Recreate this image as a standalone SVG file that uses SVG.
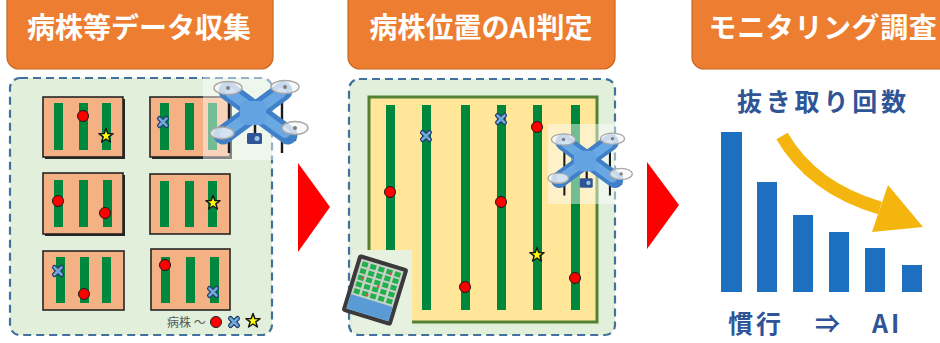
<svg xmlns="http://www.w3.org/2000/svg" xmlns:xlink="http://www.w3.org/1999/xlink" width="940" height="343" viewBox="0 0 940 343">
  <style>
    .title-box { fill: #ed7d31; stroke: #c8651e; stroke-width: 1.2; }
    .title { font-family: "Noto Sans CJK JP", "Noto Sans", sans-serif; font-weight: 700; font-size: 28px; fill: #ffffff; text-anchor: middle; }
    .panel { fill: #e2efda; stroke: #41719c; stroke-width: 2.2; stroke-dasharray: 8 5; }
    .plot { fill: #f4b183; stroke: #262626; stroke-width: 1.6; }
    .row { fill: #00873e; }
    .bar { fill: #1d6fbf; }
    .jp-blue { font-family: "Noto Sans CJK JP", "Noto Sans", sans-serif; font-weight: 700; fill: #2f5597; }
    .legend { font-family: "Noto Sans CJK JP", "Noto Sans", sans-serif; font-size: 12px; fill: #595959; }
    .step { fill: #ff0000; }
  </style>
  <defs>
    <g id="dot">
      <circle r="5.5" fill="#ff0000" stroke="#1a1a1a" stroke-width="1"/>
    </g>
    <g id="cross">
      <path d="M-3.5,-3.5 L3.5,3.5 M3.5,-3.5 L-3.5,3.5" stroke="#1f3864" stroke-width="5" stroke-linecap="round" fill="none"/>
      <path d="M-3.5,-3.5 L3.5,3.5 M3.5,-3.5 L-3.5,3.5" stroke="#6fa8dc" stroke-width="2.6" stroke-linecap="round" fill="none"/>
    </g>
    <g id="star">
      <path d="M0,-7.5 L1.8,-2.4 L7.1,-2.3 L2.8,0.9 L4.4,6 L0,3 L-4.4,6 L-2.8,0.9 L-7.1,-2.3 L-1.8,-2.4 Z" fill="#ffff00" stroke="#1a1a1a" stroke-width="1.5" stroke-linejoin="round"/>
    </g>
    <!-- quadcopter, centred on its body -->
    <g id="drone">
      <path d="M-24,-21 V40 M29,-20 V40 M42,15 V28" stroke="#1a1a1a" stroke-width="2.4"/>
      <path d="M-25,-22 L35,22 M30,-22 L-30,22" stroke="#3f80c8" stroke-width="19" stroke-linecap="round"/>
      <path d="M-23,-20 L32,20 M28,-20 L-28,20" stroke="#6aa8e4" stroke-width="10" stroke-linecap="round"/>
      <rect x="-13" y="-12" width="26" height="24" rx="6" fill="#64a3e2"/>
      <line x1="2" y1="12" x2="2" y2="22" stroke="#1a1a1a" stroke-width="2.5"/>
      <rect x="-6" y="20" width="15" height="11" rx="1.5" fill="#2f5597"/>
      <circle cx="4" cy="25.5" r="2.5" fill="#9dc3e6"/>
      <g fill="#f7f7f7" fill-opacity="0.75" stroke="#a6a6a6" stroke-width="1.4">
        <ellipse cx="-25" cy="-25" rx="14" ry="6.5"/>
        <ellipse cx="32" cy="-26" rx="14" ry="6.5"/>
        <ellipse cx="-31" cy="20" rx="12" ry="6"/>
        <ellipse cx="42" cy="15" rx="13" ry="6.5"/>
      </g>
      <g fill="#7f7f7f">
        <circle cx="-25" cy="-25" r="2"/>
        <circle cx="32" cy="-26" r="2"/>
        <circle cx="42" cy="15" r="2"/>
      </g>
    </g>
  </defs>

  <!-- step 1: collecting disease-plant data -->
  <g id="step-collect">
    <rect class="title-box" x="7" y="-14" width="266" height="83" rx="12"/>
    <text class="title" x="139" y="38">病株等データ収集</text>
    <rect class="panel" x="10" y="78" width="262" height="257" rx="10"/>
    <g id="plot-1">
      <rect x="45" y="99" width="80" height="60" fill="#262626"/>
      <rect class="plot" x="43" y="97" width="80" height="60"/>
      <rect class="row" x="54" y="103" width="9" height="47"/>
      <rect class="row" x="79" y="103" width="9" height="47"/>
      <rect class="row" x="102" y="103" width="9" height="47"/>
      <use xlink:href="#dot" x="83" y="116"/>
      <use xlink:href="#star" x="106" y="136"/>
    </g>
    <g id="plot-2">
      <rect x="152" y="99" width="80" height="60" fill="#262626"/>
      <rect class="plot" x="150" y="97" width="80" height="60"/>
      <rect class="row" x="160" y="103" width="9" height="47"/>
      <rect class="row" x="185" y="103" width="9" height="47"/>
      <rect class="row" x="208" y="103" width="9" height="47"/>
      <use xlink:href="#cross" x="163" y="122"/>
    </g>
    <g id="plot-3">
      <rect x="45" y="175" width="80" height="61" fill="#262626"/>
      <rect class="plot" x="43" y="173" width="80" height="61"/>
      <rect class="row" x="54" y="180" width="9" height="47"/>
      <rect class="row" x="79" y="180" width="9" height="47"/>
      <rect class="row" x="103" y="180" width="9" height="47"/>
      <use xlink:href="#dot" x="58" y="201"/>
      <use xlink:href="#dot" x="105" y="213"/>
    </g>
    <g id="plot-4">
      <rect class="plot" x="150" y="174" width="80" height="60"/>
      <rect class="row" x="160" y="181" width="9" height="46"/>
      <rect class="row" x="185" y="181" width="9" height="46"/>
      <rect class="row" x="208" y="181" width="9" height="46"/>
      <use xlink:href="#star" x="213" y="203"/>
    </g>
    <g id="plot-5">
      <rect class="plot" x="43" y="251" width="81" height="59"/>
      <rect class="row" x="56" y="257" width="9" height="46"/>
      <rect class="row" x="80" y="257" width="9" height="46"/>
      <rect class="row" x="102" y="257" width="9" height="46"/>
      <use xlink:href="#cross" x="58" y="271"/>
      <use xlink:href="#dot" x="84" y="294"/>
    </g>
    <g id="plot-6">
      <rect class="plot" x="151" y="249" width="79" height="61"/>
      <rect class="row" x="161" y="257" width="9" height="46"/>
      <rect class="row" x="186" y="257" width="9" height="46"/>
      <rect class="row" x="210" y="257" width="9" height="46"/>
      <use xlink:href="#dot" x="165" y="265"/>
      <use xlink:href="#cross" x="213" y="292"/>
    </g>
    <g id="legend">
      <text class="legend" x="167" y="327">病株 ～</text>
      <use xlink:href="#dot" x="216" y="322"/>
      <use xlink:href="#cross" x="234" y="322"/>
      <use xlink:href="#star" x="253" y="321"/>
    </g>
    <g id="drone-1">
      <rect x="203" y="70" width="107" height="90" fill="#ffffff" fill-opacity="0.45"/>
      <use xlink:href="#drone" transform="translate(253,113)"/>
    </g>
  </g>

  <!-- step 2: AI judgement of diseased-plant positions -->
  <g id="step-judge">
    <rect class="title-box" x="348" y="-14" width="267" height="83" rx="12"/>
    <text class="title" x="481" y="38">病株位置のAI判定</text>
    <rect class="panel" x="349" y="79" width="266" height="256" rx="10"/>
    <g id="field">
      <rect x="369" y="97" width="228" height="225" fill="#ffe699" stroke="#548235" stroke-width="3"/>
      <rect class="row" x="386" y="105" width="9" height="205"/>
      <rect class="row" x="422" y="105" width="9" height="205"/>
      <rect class="row" x="461" y="105" width="9" height="205"/>
      <rect class="row" x="497" y="105" width="9" height="205"/>
      <rect class="row" x="533" y="105" width="9" height="205"/>
      <rect class="row" x="571" y="105" width="9" height="205"/>
      <use xlink:href="#cross" x="426" y="136"/>
      <use xlink:href="#cross" x="501" y="119"/>
      <use xlink:href="#dot" x="537" y="127"/>
      <use xlink:href="#dot" x="390" y="192"/>
      <use xlink:href="#dot" x="501" y="202"/>
      <use xlink:href="#star" x="537" y="255"/>
      <use xlink:href="#dot" x="465" y="287"/>
      <use xlink:href="#dot" x="575" y="278"/>
    </g>
    <g id="drone-2">
      <rect x="548" y="124" width="84" height="80" fill="#ffffff" fill-opacity="0.45"/>
      <use xlink:href="#drone" transform="translate(585,161) scale(0.86)"/>
    </g>
    <g id="tablet">
      <rect x="352" y="250" width="60" height="82" fill="#e6f1df"/>
      <g transform="translate(375,290) rotate(17)">
        <rect x="-26" y="-30" width="52" height="60" rx="3" fill="#3a3a3a"/>
        <rect x="-22" y="-26" width="44" height="52" fill="#c9cfc9"/>
        <g fill="#1fb04a">
          <rect x="-20" y="-24" width="6" height="5"/><rect x="-11.5" y="-24" width="6" height="5"/><rect x="-3" y="-24" width="6" height="5"/><rect x="5.5" y="-24" width="6" height="5"/><rect x="14" y="-24" width="6" height="5"/>
          <rect x="-20" y="-17" width="6" height="5"/><rect x="-11.5" y="-17" width="6" height="5"/><rect x="-3" y="-17" width="6" height="5"/><rect x="5.5" y="-17" width="6" height="5"/><rect x="14" y="-17" width="6" height="5"/>
          <rect x="-20" y="-10" width="6" height="5"/><rect x="-11.5" y="-10" width="6" height="5"/><rect x="-3" y="-10" width="6" height="5"/><rect x="5.5" y="-10" width="6" height="5"/><rect x="14" y="-10" width="6" height="5"/>
          <rect x="-20" y="-3" width="6" height="5"/><rect x="-11.5" y="-3" width="6" height="5"/><rect x="-3" y="-3" width="6" height="5"/><rect x="5.5" y="-3" width="6" height="5"/><rect x="14" y="-3" width="6" height="5"/>
          <rect x="-20" y="4" width="6" height="5"/><rect x="-11.5" y="4" width="6" height="5"/><rect x="-3" y="4" width="6" height="5"/><rect x="5.5" y="4" width="6" height="5"/><rect x="14" y="4" width="6" height="5"/>
        </g>
        <g fill="#e84a4a">
          <circle cx="10" cy="-20" r="1.3"/><circle cx="-15" cy="-8" r="1.3"/><circle cx="2" cy="-4" r="1.3"/><circle cx="-6" cy="7" r="1.3"/>
        </g>
        <rect x="-22" y="11" width="44" height="15" fill="#5b9bd5"/>
      </g>
    </g>
  </g>

  <!-- step 3: monitoring survey -->
  <g id="step-monitor">
    <rect class="title-box" x="692" y="-14" width="270" height="83" rx="12"/>
    <text class="title" x="823" y="38" style="letter-spacing:0.6px">モニタリング調査</text>
    <text class="jp-blue" x="737" y="111" font-size="25" style="letter-spacing:3.8px">抜き取り回数</text>
    <g id="bars">
      <rect class="bar" x="721" y="132" width="21" height="160"/>
      <rect class="bar" x="757" y="182" width="20" height="110"/>
      <rect class="bar" x="793" y="215" width="20" height="77"/>
      <rect class="bar" x="829" y="232" width="20" height="60"/>
      <rect class="bar" x="865" y="248" width="20" height="44"/>
      <rect class="bar" x="902" y="265" width="20" height="27"/>
    </g>
    <g id="trend-arrow" fill="#f5b50f">
      <path d="M782,136 Q812,188 880,208" fill="none" stroke="#f5b50f" stroke-width="13"/>
      <polygon points="888,185 923,227 872,232"/>
    </g>
    <text class="jp-blue" y="333" font-size="25"><tspan x="728" style="letter-spacing:3px">慣行</tspan> <tspan x="815">⇒</tspan> <tspan x="872" style="letter-spacing:3px">AI</tspan></text>
  </g>

  <!-- flow between the steps -->
  <g id="connectors">
    <polygon class="step" points="298,163 330,207 298,252"/>
    <polygon class="step" points="647,162 679,205 647,249"/>
  </g>
</svg>
